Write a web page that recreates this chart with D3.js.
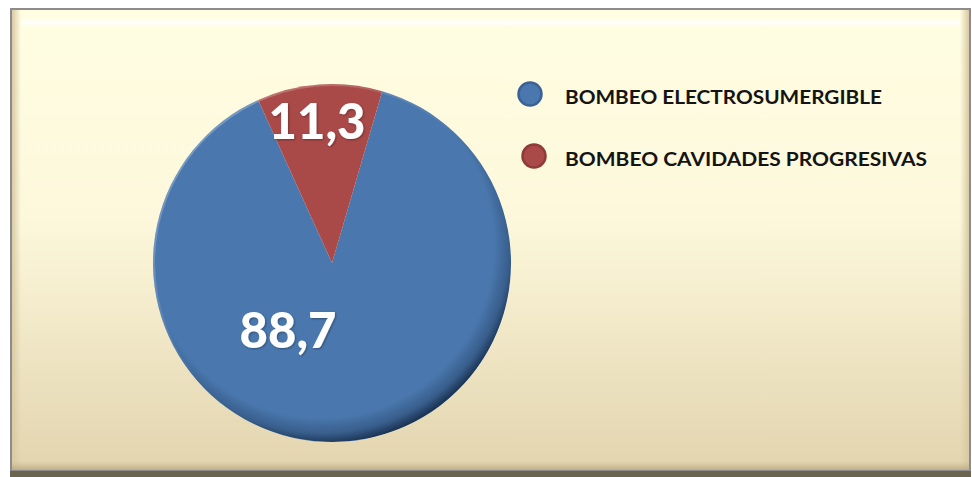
<!DOCTYPE html>
<html>
<head>
<meta charset="utf-8">
<script src="https://cdn.jsdelivr.net/npm/d3@7"></script>
<style>
  html, body { margin: 0; padding: 0; background: #ffffff; }
  svg { display: block; }
</style>
</head>
<body>
<svg id="chart" width="972" height="477"></svg>
<script>
// Share of pumping systems (percent)
const categories = ["BOMBEO ELECTROSUMERGIBLE", "BOMBEO CAVIDADES PROGRESIVAS"];
const values = [88.7, 11.3];
const valueLabels = ["88,7", "11,3"];
const colors = ["#4a78ae", "#aa4a48"];
const strokeColors = ["#3a6296", "#8e3b39"];

const W = 972, H = 477;
const svg = d3.select("#chart");
const defs = svg.append("defs");

// Panel background gradient
const bg = defs.append("linearGradient").attr("id", "bgGrad")
  .attr("x1", 0).attr("y1", 0).attr("x2", 0).attr("y2", 1);
bg.append("stop").attr("offset", "0%").attr("stop-color", "#fffde2");
bg.append("stop").attr("offset", "45%").attr("stop-color", "#fdf8dc");
bg.append("stop").attr("offset", "100%").attr("stop-color", "#e2d4ae");

const leftBevel = defs.append("linearGradient").attr("id", "leftBevel")
  .attr("x1", 0).attr("y1", 0).attr("x2", 1).attr("y2", 0);
leftBevel.append("stop").attr("offset", "0%").attr("stop-color", "#d9caa4");
leftBevel.append("stop").attr("offset", "100%").attr("stop-color", "#d9caa4").attr("stop-opacity", 0);

const rightBevel = defs.append("linearGradient").attr("id", "rightBevel")
  .attr("x1", 1).attr("y1", 0).attr("x2", 0).attr("y2", 0);
rightBevel.append("stop").attr("offset", "0%").attr("stop-color", "#d8c9a2");
rightBevel.append("stop").attr("offset", "100%").attr("stop-color", "#d8c9a2").attr("stop-opacity", 0);

const topBevel = defs.append("linearGradient").attr("id", "topBevel")
  .attr("x1", 0).attr("y1", 0).attr("x2", 0).attr("y2", 1);
topBevel.append("stop").attr("offset", "0%").attr("stop-color", "#ffffff").attr("stop-opacity", 0);
topBevel.append("stop").attr("offset", "60%").attr("stop-color", "#ffffff").attr("stop-opacity", 0.95);
topBevel.append("stop").attr("offset", "100%").attr("stop-color", "#ffffff").attr("stop-opacity", 0);

const bottomBevel = defs.append("linearGradient").attr("id", "bottomBevel")
  .attr("x1", 0).attr("y1", 0).attr("x2", 0).attr("y2", 1);
bottomBevel.append("stop").attr("offset", "0%").attr("stop-color", "#c9b994").attr("stop-opacity", 0);
bottomBevel.append("stop").attr("offset", "100%").attr("stop-color", "#b8a882");

// Frame
const fx = 11, fy = 9, fw = 959, fh = 462;
svg.append("rect").attr("x", fx).attr("y", fy).attr("width", fw).attr("height", fh)
  .attr("fill", "url(#bgGrad)");
svg.append("rect").attr("x", fx + 1).attr("y", fy + 1).attr("width", 9).attr("height", fh - 2)
  .attr("fill", "url(#leftBevel)");
svg.append("rect").attr("x", fx + fw - 10).attr("y", fy + 1).attr("width", 9).attr("height", fh - 2)
  .attr("fill", "url(#rightBevel)");
svg.append("rect").attr("x", fx + 10).attr("y", fy + 8).attr("width", fw - 20).attr("height", 10)
  .attr("fill", "url(#topBevel)");
svg.append("rect").attr("x", fx + 1).attr("y", fy + fh - 10).attr("width", fw - 2).attr("height", 10)
  .attr("fill", "url(#bottomBevel)");
svg.append("rect").attr("x", fx).attr("y", fy).attr("width", fw).attr("height", fh)
  .attr("fill", "none").attr("stroke", "#8c8c8c").attr("stroke-width", 2);
// dark lower edge
svg.append("rect").attr("x", fx - 1).attr("y", fy + fh).attr("width", fw + 2).attr("height", 6)
  .attr("fill", "#6b6550");

// Pie
const cx = 332, cy = 263, r = 179;
const startOffset = 16.3 * Math.PI / 180;
const pie = d3.pie().sort(null).value(d => d)
  .startAngle(startOffset).endAngle(startOffset + 2 * Math.PI);
const arcs = pie(values);
const arc = d3.arc().innerRadius(0).outerRadius(r);

// inner edge shading for the rounded look
const shade = defs.append("radialGradient").attr("id", "pieShade")
  .attr("cx", "47%").attr("cy", "45%").attr("r", "56%");
shade.append("stop").attr("offset", "86%").attr("stop-color", "#0a1a33").attr("stop-opacity", 0);
shade.append("stop").attr("offset", "94%").attr("stop-color", "#0a1a33").attr("stop-opacity", 0.28);
shade.append("stop").attr("offset", "100%").attr("stop-color", "#0a1a33").attr("stop-opacity", 0.8);
defs.append("clipPath").attr("id", "pieClip")
  .append("circle").attr("cx", cx).attr("cy", cy).attr("r", r);

const g = svg.append("g").attr("transform", `translate(${cx},${cy})`);
g.selectAll("path.slice").data(arcs).join("path")
  .attr("class", "slice")
  .attr("d", arc)
  .attr("fill", (d, i) => colors[i]);

svg.append("circle").attr("cx", cx).attr("cy", cy).attr("r", r)
  .attr("fill", "url(#pieShade)").attr("clip-path", "url(#pieClip)");

// light rim on the upper-left edge
const rim = defs.append("linearGradient").attr("id", "rimGrad")
  .attr("x1", 0).attr("y1", 0).attr("x2", 1).attr("y2", 1);
rim.append("stop").attr("offset", "0%").attr("stop-color", "#ffffff").attr("stop-opacity", 0.35);
rim.append("stop").attr("offset", "50%").attr("stop-color", "#ffffff").attr("stop-opacity", 0);
svg.append("circle").attr("cx", cx).attr("cy", cy).attr("r", r - 1)
  .attr("fill", "none").attr("stroke", "url(#rimGrad)").attr("stroke-width", 2);

// Value labels
const labelPos = [
  [-44, 66],   // 88,7
  [-15, -143]  // 11,3
];
const lblShadow = defs.append("filter").attr("id", "txtShadow")
  .attr("x", "-10%").attr("y", "-10%").attr("width", "130%").attr("height", "130%");
lblShadow.append("feDropShadow").attr("dx", 1).attr("dy", 1).attr("stdDeviation", 1)
  .attr("flood-color", "#000").attr("flood-opacity", 0.35);

g.selectAll("text.val").data(arcs).join("text")
  .attr("class", "val")
  .attr("x", (d, i) => labelPos[i][0])
  .attr("y", (d, i) => labelPos[i][1])
  .attr("text-anchor", "middle")
  .attr("dominant-baseline", "central")
  .attr("font-family", "Lato, 'Open Sans', sans-serif")
  .attr("font-weight", 900)
  .attr("font-size", 49)
  .attr("fill", "#ffffff")
  .attr("filter", "url(#txtShadow)")
  .text((d, i) => valueLabels[i]);

// Legend
const legend = svg.append("g");
const legendY = d3.scalePoint().domain(categories).range([94, 156]);
const legendMarkerX = [530, 534];
const items = legend.selectAll("g.item").data(categories).join("g").attr("class", "item");
items.append("circle")
  .attr("cx", (d, i) => legendMarkerX[i])
  .attr("cy", d => legendY(d))
  .attr("r", 11.5)
  .attr("fill", (d, i) => colors[i])
  .attr("stroke", (d, i) => strokeColors[i])
  .attr("stroke-width", 2.5);
items.append("text")
  .attr("x", 565)
  .attr("y", d => legendY(d) + 2)
  .attr("dominant-baseline", "central")
  .attr("font-family", "Lato, 'Open Sans', sans-serif")
  .attr("font-weight", 700)
  .attr("font-size", 19.5)
  .attr("fill", "#141414")
  .attr("textLength", (d, i) => i === 0 ? 317 : 362)
  .attr("lengthAdjust", "spacingAndGlyphs")
  .text(d => d);
</script>
</body>
</html>
